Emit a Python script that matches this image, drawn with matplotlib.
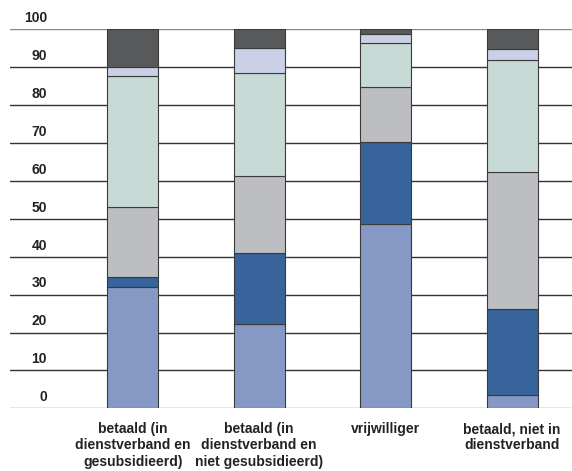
import matplotlib.pyplot as plt
import numpy as np

categories = ["betaald (in\ndienstverband en\ngesubsidieerd)",
              "betaald (in\ndienstverband en\nniet gesubsidieerd)",
              "vrijwilliger",
              "betaald, niet in\ndienstverband"]

# stacked segments, bottom to top (percent)
seg1 = [31.9, 22.2, 48.5, 3.5]
seg2 = [2.7, 18.9, 21.8, 22.8]
seg3 = [18.4, 20.3, 14.6, 36.1]
seg4 = [34.6, 27.0, 11.6, 29.4]
seg5 = [2.5, 6.7, 2.3, 2.9]
seg6 = [9.9, 4.9, 1.2, 5.3]

yticks = list(range(0, 101, 10))

colors = ["#8599c4", "#37649b", "#bdbec2", "#c7dad6", "#cad0e5", "#58595b"]
segments = [seg1, seg2, seg3, seg4, seg5, seg6]

plt.rcParams['font.family'] = ['Liberation Sans', 'DejaVu Sans']

fig = plt.figure(figsize=(5.72, 4.71), dpi=100)
ax = fig.add_axes([10 / 572, 0.1331, 1 - 10 / 572, 0.9378 - 0.1331])

x = np.arange(len(categories))
bottom = np.zeros(len(categories))
for seg, col in zip(segments, colors):
    ax.bar(x, seg, bottom=bottom, width=0.403, color=col,
           edgecolor="#3a3a3a", linewidth=0.8, zorder=3)
    bottom += np.array(seg)

for v in yticks:
    lc = "#888888" if v in (0, 100) else "#333333"
    ax.axhline(v, color=lc, linewidth=1.0, zorder=1)
    ax.annotate(str(v), xy=(-0.677, v), xytext=(0, 3), textcoords="offset points",
                ha="right", va="bottom", fontsize=10, fontweight="bold", color="#222222")

for xi, cat in zip(x, categories):
    ax.annotate(cat, xy=(xi, 0), xytext=(0, -10), textcoords="offset points",
                ha="center", va="top", fontsize=10, fontweight="bold",
                color="#222222", linespacing=1.2, multialignment="center")

ax.set_xlim(-0.97, 3.473)
ax.set_ylim(0, 100)
ax.axis("off")

fig.savefig("out.png", dpi=100)
